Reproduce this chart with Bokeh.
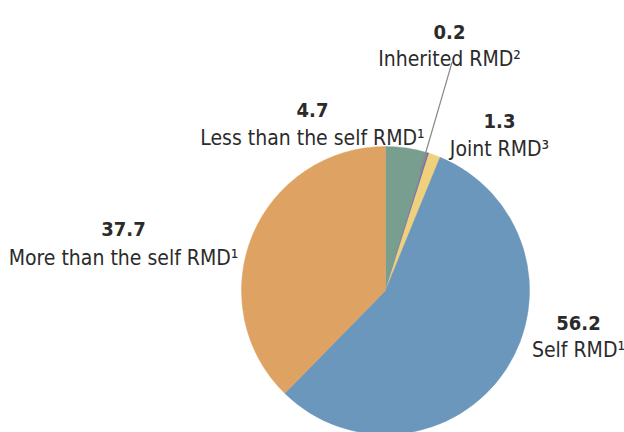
import math
from bokeh.plotting import figure
from bokeh.models import Range1d, ColumnDataSource
from bokeh.core.properties import value
from bokeh.embed import file_html
from bokeh.resources import INLINE

# ---- data ----
categories = ["Less than the self RMD\u00b9", "Inherited RMD\u00b2", "Joint RMD\u00b3",
              "Self RMD\u00b9", "More than the self RMD\u00b9"]
shares = [4.7, 0.2, 1.3, 56.2, 37.7]
share_labels = ["4.7", "0.2", "1.3", "56.2", "37.7"]
colors = ["#789e90", "#7b6aa6", "#efd17d", "#6a97bb", "#dea263"]

# ---- layout (page pixels) ----
W, H = 624, 432
OFF = 0
FONT = "DejaVu Sans Condensed"


def px(x):
    return x - OFF


def py(y):
    return H + OFF - y


cx, cy, R = px(385), py(290), 144

p = figure(width=W, height=H, output_backend="svg", toolbar_location=None,
           x_range=Range1d(0, W), y_range=Range1d(0, H), min_border=0)
p.axis.visible = False
p.grid.visible = False
p.outline_line_color = None
p.background_fill_color = "white"

total = sum(shares)
starts, ends, mids = [], [], []
cum = 0.0
for v in shares:
    a0 = math.pi / 2 - 2 * math.pi * cum / total
    cum += v
    a1 = math.pi / 2 - 2 * math.pi * cum / total
    starts.append(a0)
    ends.append(a1)
    mids.append((a0 + a1) / 2)

src = ColumnDataSource(dict(start=starts, end=ends, color=colors))
p.wedge(x=cx, y=cy, radius=R, start_angle="start", end_angle="end",
        direction="clock", fill_color="color", line_color="color", line_width=0.5,
        source=src)

# leader line for the inherited slice
ang = mids[1] + math.radians(1.0)
r0, r1 = 124, 238
p.segment(x0=[cx + r0 * math.cos(ang)], y0=[cy + r0 * math.sin(ang)],
          x1=[cx + r1 * math.cos(ang)], y1=[cy + r1 * math.sin(ang)],
          line_color="#8a8a8a", line_width=1.2)

# label anchor positions (page coords): (center x, number baseline, label baseline)
anchors = [(312, 109, 137), (449, 31, 58), (499, 120, 148), (578, 322, 349), (123, 228, 257)]
num_x = [px(a[0]) for a in anchors]
num_y = [py(a[1]) for a in anchors]
lab_y = [py(a[2]) for a in anchors]

p.text(x=num_x, y=num_y, text=share_labels, text_align="center",
       text_baseline="alphabetic", text_font=value(FONT), text_font_style="bold",
       text_font_size="20px", text_color="#2b2b2b")
p.text(x=num_x, y=lab_y, text=categories, text_align="center",
       text_baseline="alphabetic", text_font=value(FONT),
       text_font_size="21px", text_color="#2b2b2b")

open("out.html", "w").write(file_html(p, INLINE))
